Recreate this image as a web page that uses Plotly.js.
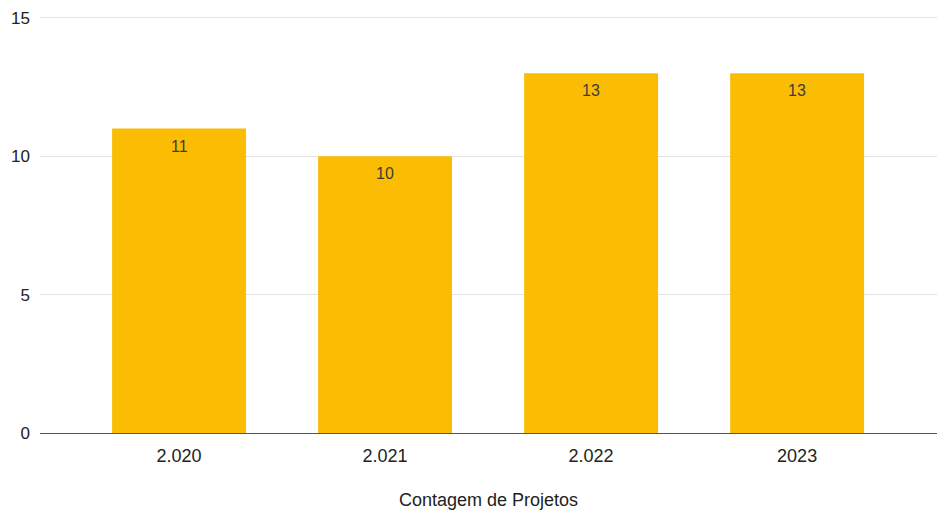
<!DOCTYPE html>
<html>
<head>
<meta charset="utf-8">
<script src="https://cdn.plot.ly/plotly-3.0.1.min.js"></script>
<style>html,body{margin:0;padding:0;background:#fff;}#chart{width:939px;height:514px;}</style>
</head>
<body>
<div id="chart"></div>
<script>
const categories = ["2.020", "2.021", "2.022", "2023"];
const counts = [11, 10, 13, 13];
const yTicks = [0, 5, 10, 15];
const xTitle = "Contagem de Projetos";

const trace = {
  type: "bar",
  x: categories,
  y: counts,
  marker: {color: "#fbbc04"},
  width: 0.65,
  hoverinfo: "x+y"
};

// category axis: annotation x given as the category's index
const labels = categories.map((c, i) => ({
  x: i, y: counts[i], xref: "x", yref: "y",
  text: String(counts[i]), showarrow: false,
  yanchor: "top", yshift: -7,
  font: {family: "Liberation Sans, Arial, sans-serif", size: 16, color: "#3c3c3c"}
}));

const layout = {
  width: 939, height: 514,
  margin: {l: 40, r: 2, t: 15, b: 81},
  paper_bgcolor: "#ffffff",
  plot_bgcolor: "#ffffff",
  showlegend: false,
  annotations: labels,
  font: {family: "Liberation Sans, Arial, sans-serif", size: 17, color: "#222"},
  xaxis: {
    type: "category",
    range: [-0.675, 3.679],
    showgrid: false,
    showline: false,
    ticks: "",
    ticklabelstandoff: 10,
    tickfont: {size: 18, color: "#222"},
    title: {text: xTitle, font: {size: 18, color: "#222"}, standoff: 28}
  },
  yaxis: {
    range: [0, 15.1],
    tickvals: yTicks,
    ticktext: yTicks.map(String),
    showgrid: true,
    gridcolor: "#e3e3e3",
    zeroline: true,
    zerolinecolor: "#555",
    zerolinewidth: 1,
    showline: false,
    ticks: "",
    ticklabelstandoff: 9,
    tickfont: {size: 17, color: "#222"}
  }
};

Plotly.newPlot("chart", [trace], layout, {displayModeBar: false, staticPlot: true});
</script>
</body>
</html>
